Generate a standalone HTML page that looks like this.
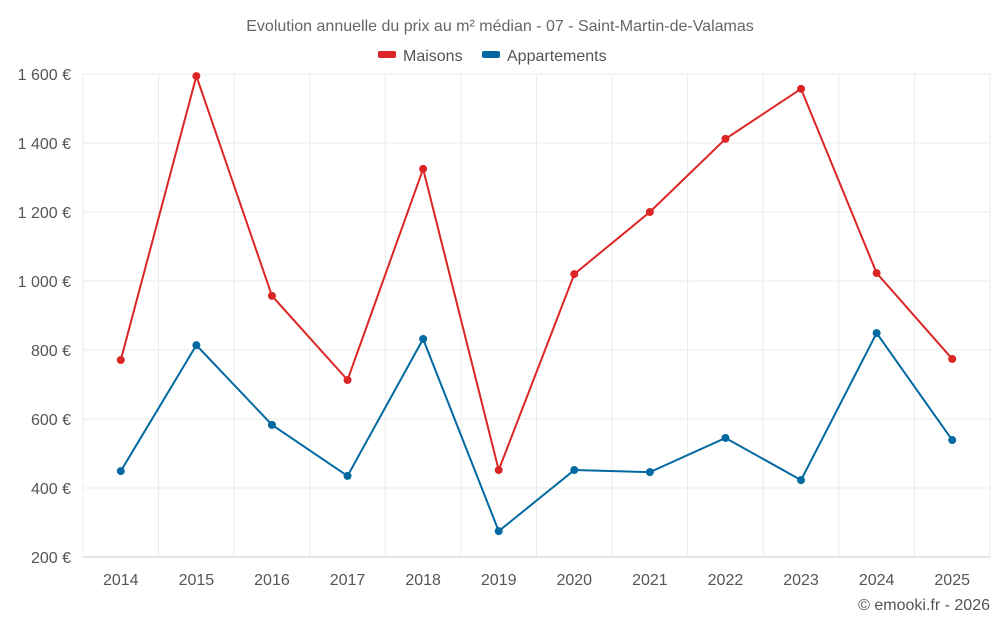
<!DOCTYPE html>
<html><head><meta charset="utf-8">
<style>
html,body{margin:0;padding:0;background:#fff;}
body{width:1000px;height:625px;overflow:hidden;font-family:"Liberation Sans",sans-serif;}
text{font-family:"Liberation Sans",sans-serif;}
</style></head>
<body>
<svg id="chart" width="1000" height="625" xmlns="http://www.w3.org/2000/svg">
<text x="500" y="31" text-anchor="middle" font-size="16" fill="#666">Evolution annuelle du prix au m² médian - 07 - Saint-Martin-de-Valamas</text>
<g><rect x="378" y="51" width="18" height="7" rx="2" fill="#dc2626"/><text x="403" y="61" font-size="16" fill="#555">Maisons</text></g>
<g><rect x="482" y="51" width="18" height="7" rx="2" fill="#0369a1"/><text x="507" y="61" font-size="16" fill="#555">Appartements</text></g>
<g id="grid"></g><g id="axes"></g><g id="series"></g>
<text x="990" y="610" text-anchor="end" font-size="16" fill="#555">© emooki.fr - 2026</text>
</svg>
<script>
const years=[2014,2015,2016,2017,2018,2019,2020,2021,2022,2023,2024,2025];
const maisons=[771,1594,957,713,1325,452,1020,1200,1412,1557,1023,774];
const appartements=[449,814,583,435,832,275,452,446,545,423,849,539];
const yTicks=[200,400,600,800,1000,1200,1400,1600];
const yTickLabels=["200 €","400 €","600 €","800 €","1 000 €","1 200 €","1 400 €","1 600 €"];
const NS="http://www.w3.org/2000/svg";
const L=83,R=990,T=74,B=557,yMin=200,yMax=1600;
const step=(R-L)/years.length;
const x=i=>L+step*(i+0.5);
const y=v=>B-(v-yMin)/(yMax-yMin)*(B-T);
function mk(tag,attrs,parent){const e=document.createElementNS(NS,tag);for(const k in attrs)e.setAttribute(k,attrs[k]);parent.appendChild(e);return e;}
const grid=document.getElementById('grid'),axes=document.getElementById('axes'),ser=document.getElementById('series');
yTicks.forEach((t,i)=>{
 const g=mk('line',{x1:L,x2:R,y1:y(t),y2:y(t),stroke:i==0?'#ccc':'#ebebeb','stroke-width':1},grid);
 
 
 const tx=mk('text',{x:L-12,y:y(t)+6,'text-anchor':'end','font-size':16,fill:'#555'},axes);
 tx.textContent=yTickLabels[i];
 
 
});
for(let i=0;i<=years.length;i++){
 const g=mk('line',{x1:L+step*i,x2:L+step*i,y1:T,y2:B,stroke:'#ebebeb','stroke-width':1},grid);
 
 
}
years.forEach((yr,i)=>{
 const tx=mk('text',{x:x(i),y:585,'text-anchor':'middle','font-size':16,fill:'#555'},axes);
 tx.textContent=yr;
 
 
});
function draw(vals,color,name){
 const p=mk('polyline',{points:vals.map((v,i)=>x(i)+','+y(v)).join(' '),fill:'none',stroke:color,'stroke-width':2},ser);
 
 
 vals.forEach((v,i)=>{
  const c=mk('circle',{cx:x(i),cy:y(v),r:4,fill:color},ser);
  
  
 });
}
draw(maisons,'#dc2626','maisons');
draw(appartements,'#0369a1','appartements');
</script>
</body></html>
